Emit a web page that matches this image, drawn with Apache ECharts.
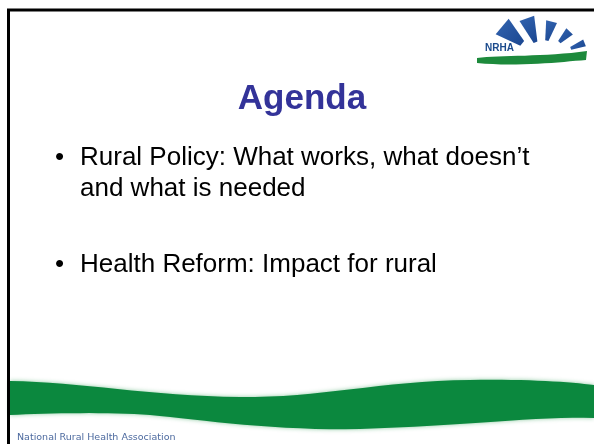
<!DOCTYPE html>
<html>
<head>
<meta charset="utf-8">
<script src="https://cdn.jsdelivr.net/npm/echarts@6/dist/echarts.min.js"></script>
<style>
  html, body { margin: 0; padding: 0; background: #fff; }
  #slide { width: 594px; height: 444px; }
</style>
</head>
<body>
<div id="slide"></div>
<script>
// slide content
const titleText = 'Agenda'
const bulletLines = [
  ['Rural Policy: What works, what doesn\u2019t', 'and what is needed'],
  ['Health Reform: Impact for rural']
]
const footerText = 'National Rural Health Association'
const logoText = 'NRHA'

// logo rays: angle (deg), inner / outer radius, half width (deg)
const rayAngles = [140, 110, 76, 46, 22]
const rayInner = [26, 19, 20, 25, 31]
const rayOuter = [53, 45, 40, 40, 46]
const rayHalf = [11, 10, 8, 6.5, 4.5]

const chart = echarts.init(document.getElementById('slide'))

function rayShape(cx, cy, ang, r1, r2, hw) {
  const pt = (a, r) => {
    const t = a * Math.PI / 180
    return [cx + r * Math.cos(t), cy - r * Math.sin(t)]
  }
  return [pt(ang - hw * 0.6, r1), pt(ang - hw, r2), pt(ang + hw, r2), pt(ang + hw * 0.6, r1)]
}

// start point followed by cubic segments [c1, c2, end], or [p] for straight ones
function bezierOutline(start, segs) {
  const pts = [start]
  let p0 = start
  segs.forEach(s => {
    if (s.length === 1) { pts.push(s[0]); p0 = s[0]; return }
    const [c1, c2, p3] = s
    for (let k = 1; k <= 16; k++) {
      const t = k / 16, u = 1 - t
      pts.push([
        u * u * u * p0[0] + 3 * u * u * t * c1[0] + 3 * u * t * t * c2[0] + t * t * t * p3[0],
        u * u * u * p0[1] + 3 * u * u * t * c1[1] + 3 * u * t * t * c2[1] + t * t * t * p3[1]
      ])
    }
    p0 = p3
  })
  return pts
}

const elements = []

// green wave at the bottom
elements.push({
  type: 'polygon',
  shape: {
    points: bezierOutline([10, 381], [
      [[80, 382], [150, 396], [240, 397]],
      [[320, 398], [380, 381], [470, 380]],
      [[530, 379], [570, 382], [594, 385]],
      [[594, 418]],
      [[540, 416], [460, 426], [360, 429]],
      [[280, 431], [200, 420], [150, 415]],
      [[110, 412], [50, 413], [10, 415]]
    ])
  },
  style: { fill: '#0b883e', shadowBlur: 4, shadowColor: 'rgba(30,150,70,0.5)' }
})

// slide border (top + left)
elements.push({
  type: 'polyline',
  shape: { points: [[8.5, 444], [8.5, 10], [594, 10]] },
  style: { stroke: '#000', lineWidth: 3, fill: null }
})

// title
elements.push({
  type: 'text',
  x: 302, y: 99,
  style: {
    text: titleText, fill: '#333399', align: 'center', verticalAlign: 'middle',
    font: 'bold 35px "Liberation Sans", Arial, sans-serif'
  }
})

// bullets
const lineY = [[158, 189], [265]]
bulletLines.forEach((lines, i) => {
  elements.push({
    type: 'text', x: 55, y: lineY[i][0],
    style: { text: '\u2022', fill: '#000', verticalAlign: 'middle', font: '26px "Liberation Sans", Arial, sans-serif' }
  })
  lines.forEach((t, j) => {
    elements.push({
      type: 'text', x: 80, y: lineY[i][j],
      style: { text: t, fill: '#000', verticalAlign: 'middle', font: '26px "Liberation Sans", Arial, sans-serif' }
    })
  })
})

// footer
elements.push({
  type: 'text', x: 17, y: 438,
  style: { text: footerText, fill: '#4d6a9f', verticalAlign: 'middle', font: '9.5px "DejaVu Sans", sans-serif' }
})

// logo
const rayFill = {
  type: 'linear', x: 0, y: 0, x2: 1, y2: 1,
  colorStops: [{ offset: 0, color: '#3364b0' }, { offset: 1, color: '#1a4690' }]
}
rayAngles.forEach((a, i) => {
  elements.push({
    type: 'polygon',
    shape: { points: rayShape(542, 60, a, rayInner[i], rayOuter[i], rayHalf[i]) },
    style: { fill: rayFill }
  })
})
elements.push({
  type: 'polygon',
  shape: {
    points: bezierOutline([477, 58], [
      [[500, 55], [545, 57], [587, 51]],
      [[586, 60]],
      [[560, 62], [520, 67], [477, 63]]
    ])
  },
  style: { fill: '#1d8a3c' }
})
elements.push({
  type: 'text', x: 485, y: 48,
  style: { text: logoText, fill: '#1b4a8c', verticalAlign: 'middle', font: 'bold 10px "Liberation Sans", Arial, sans-serif' }
})

chart.setOption({
  backgroundColor: '#fff',
  animation: false,
  graphic: { elements: elements }
})
</script>
</body>
</html>
